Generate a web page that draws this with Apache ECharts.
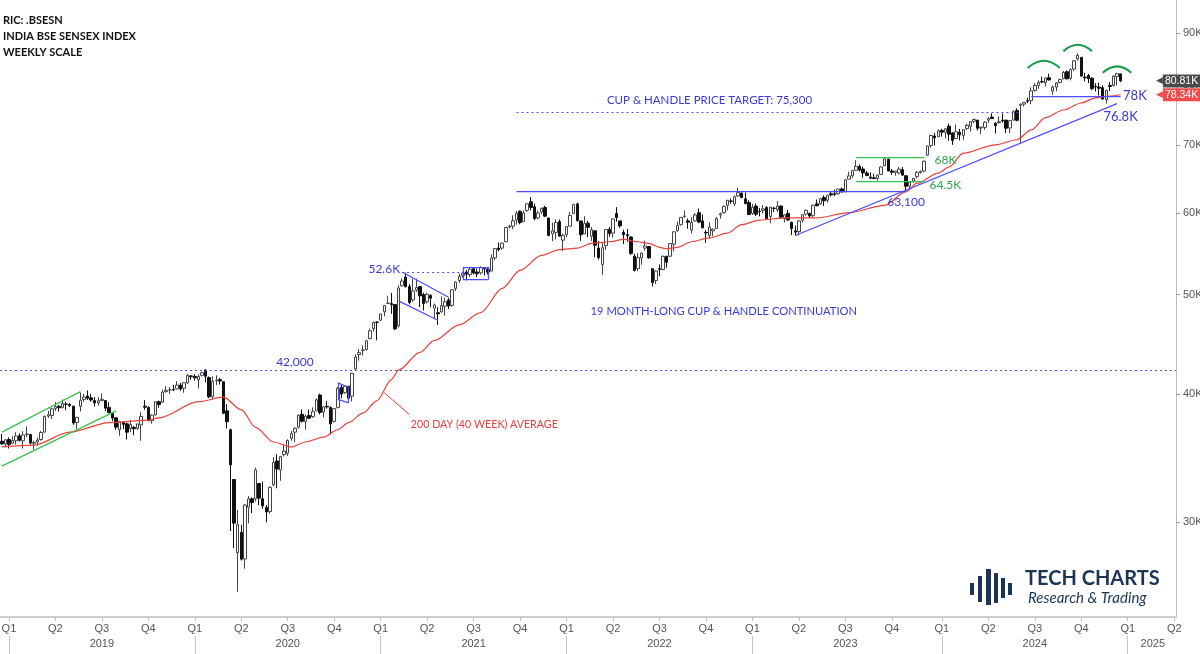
<!DOCTYPE html>
<html>
<head>
<meta charset="utf-8">
<title>BSE Sensex weekly</title>
<script src="https://cdn.jsdelivr.net/npm/echarts@6/dist/echarts.min.js"></script>
<style>
html, body { margin: 0; padding: 0; background: #fff; }
#chart { width: 1200px; height: 654px; }
</style>
</head>
<body>
<div id="chart"></div>
<script>
// weekly candles, rows are [open, close, low, high]; first week starts 2018-12-17
var ohlc2018 = [
    [35960, 35742, 35690, 36550], [35740, 36076, 35470, 36120], [36100, 35695, 35380, 36270]
];
var ohlc2019 = [
    [35800, 36010, 35740, 36370], [36000, 36387, 35700, 36700], [36400, 36025, 35950, 36600],
    [36000, 36469, 35375, 36780], [36500, 36546, 36300, 37170], [36500, 35809, 35700, 36560],
    [35800, 35871, 35300, 36000], [35900, 36064, 35600, 36250], [36100, 36671, 36000, 36800],
    [36700, 38024, 36700, 38100], [38050, 38164, 37900, 38490], [38100, 38673, 37800, 38750],
    [38700, 38862, 38500, 39270], [38900, 38767, 38450, 39000], [38800, 39140, 38700, 39490],
    [39100, 39067, 38550, 39300], [39050, 38963, 38830, 39200], [38900, 37463, 37300, 38950],
    [37500, 37931, 36950, 38000], [38900, 39435, 38450, 40120], [39500, 39714, 39300, 40000],
    [39800, 39616, 39450, 40310], [39650, 39452, 39300, 40000], [39400, 39195, 38870, 39700],
    [39200, 39395, 38950, 39700], [39400, 39513, 39400, 40030], [39400, 38737, 38480, 39400],
    [38800, 38337, 38300, 39250], [38300, 37883, 37620, 38390], [37900, 37118, 36900, 37950],
    [36900, 37582, 36400, 37650], [37500, 37350, 36950, 37600], [37400, 36701, 36100, 37500],
    [37000, 37333, 36700, 37700], [37100, 36982, 36450, 37200], [37000, 37385, 36900, 37400],
    [37300, 38015, 35990, 38380], [38900, 38823, 38600, 39440], [38800, 37673, 37600, 38900],
    [37650, 38127, 37420, 38200], [38150, 39298, 38100, 39360], [39300, 39058, 38780, 39400],
    [39250, 40165, 39200, 40390], [40200, 40324, 40100, 40690], [40350, 40357, 40000, 40600],
    [40400, 40359, 40250, 40820], [40450, 40794, 40400, 41160], [40800, 40445, 40280, 41000],
    [40500, 41010, 40100, 41050], [41000, 41682, 40900, 41810], [41650, 41575, 41300, 41700],
    [41600, 41465, 41200, 41810]
];
var ohlc2020 = [
    [41300, 41600, 40480, 41780], [41700, 41945, 41600, 42060], [42200, 41613, 41050, 42270],
    [41500, 39736, 39630, 41600], [39750, 41142, 39500, 41600], [41200, 41258, 40800, 41700],
    [41300, 41170, 40850, 41450], [41100, 38297, 38220, 41150], [38500, 37577, 37000, 39080],
    [36900, 34103, 29390, 37000], [33000, 29916, 28290, 33000], [28000, 29816, 25640, 30820],
    [29300, 27591, 27500, 29800], [27600, 31160, 27000, 31230], [31000, 31589, 29900, 31800],
    [31600, 31327, 30600, 31700], [31600, 33717, 31400, 33890], [32700, 31643, 31150, 32700],
    [31600, 31098, 30900, 32850], [31000, 30673, 29970, 31150], [30700, 32424, 30550, 32500],
    [32600, 34287, 32500, 34700], [34400, 33781, 32350, 34930], [33700, 34732, 32900, 34800],
    [34900, 35171, 34750, 35710], [35000, 36021, 34800, 36110], [36200, 36594, 36000, 36810],
    [36700, 37020, 35880, 37100], [37100, 38129, 37000, 38200], [38200, 37607, 37500, 38620],
    [37600, 38040, 36900, 38200], [38100, 37877, 37800, 38630], [38000, 38434, 37900, 38800],
    [38500, 39467, 38500, 39600], [39900, 38357, 38200, 40010], [38400, 38855, 37940, 38900],
    [38900, 38845, 38700, 39360], [38800, 37388, 36500, 38900], [37600, 38697, 37500, 38750],
    [38800, 40509, 38700, 40600], [40600, 39983, 39600, 40810], [40100, 40686, 40000, 40800],
    [40700, 39614, 39240, 40700], [39800, 41893, 39330, 41950], [42300, 43443, 42200, 43700],
    [43700, 43882, 43100, 44230], [44100, 44150, 43600, 44600], [44200, 45080, 44100, 45150],
    [45300, 46099, 45200, 46300], [46300, 46961, 46000, 47050], [47000, 46974, 45110, 47100],
    [47200, 47869, 47100, 47900]
];
var ohlc2021 = [
    [48100, 48782, 47600, 48850], [49000, 49035, 48950, 49800], [49000, 48879, 47880, 50180],
    [48900, 46286, 46160, 48900], [46600, 50732, 46430, 51070], [51000, 51544, 50900, 51840],
    [52000, 50890, 50800, 52520], [50900, 49100, 48900, 51200], [49400, 50406, 49200, 51820],
    [50500, 50792, 50300, 51820], [50900, 49858, 48620, 50950], [50000, 49009, 48240, 50200],
    [49200, 50030, 49000, 50200], [49900, 49591, 48600, 50050], [48500, 48832, 47360, 49000],
    [48000, 47878, 46700, 48600], [48100, 48782, 48000, 49800], [48700, 49206, 47700, 49620],
    [49400, 48732, 48400, 49620], [48800, 50540, 48650, 50600], [50700, 51423, 50400, 51500],
    [51600, 52100, 51300, 52400], [52200, 52475, 51950, 52640], [52600, 52344, 51600, 52870],
    [52300, 52925, 52000, 53130], [53000, 52485, 52300, 53130], [52600, 52386, 52000, 53000],
    [52500, 53140, 52300, 53290], [53100, 52976, 52200, 53200], [52900, 52586, 52300, 53100],
    [52700, 54277, 52700, 54720], [54300, 55437, 54000, 55490], [55500, 55329, 55100, 56200],
    [55500, 56124, 55300, 56200], [56300, 58130, 56250, 58190], [58200, 58305, 58000, 58500],
    [58300, 59015, 57900, 59740], [59100, 60048, 58500, 60330], [60300, 58765, 58550, 60410],
    [58900, 60059, 58900, 60400], [60400, 61306, 60200, 61350], [61600, 60821, 60400, 62250],
    [60900, 59307, 59100, 61350], [59400, 60067, 59200, 60400], [60200, 60687, 59950, 60800],
    [60800, 59636, 59500, 61040], [59400, 57107, 56990, 59400], [57300, 57696, 56380, 58780],
    [57500, 58786, 56600, 59200], [58900, 57011, 57000, 59200], [56500, 57124, 55130, 57350],
    [57200, 58254, 56900, 58350]
];
var ohlc2022 = [
    [58300, 59745, 58300, 60200], [60000, 61223, 59900, 61320], [61300, 59037, 58900, 61480],
    [59000, 57200, 56400, 59000], [57300, 58645, 57300, 59620], [58700, 58153, 56900, 59000],
    [57000, 57833, 56400, 58200], [57700, 55859, 54380, 57700], [55500, 54334, 54100, 56400],
    [53500, 55550, 52260, 56200], [55800, 57864, 55300, 57900], [57900, 57362, 56950, 58200],
    [57400, 59277, 56800, 59300], [60000, 59447, 58900, 60850], [59000, 58339, 58100, 59000],
    [57500, 57197, 56000, 57850], [57200, 57061, 56300, 57950], [56900, 54836, 54670, 57000],
    [54500, 52794, 52670, 54800], [53000, 54326, 52700, 54900], [54300, 54885, 53450, 54960],
    [55500, 55769, 55200, 56430], [55700, 54303, 54200, 55700], [53000, 51360, 50920, 53000],
    [51600, 52728, 51200, 52800], [53000, 52908, 52100, 53500], [52900, 54482, 52800, 54600],
    [54500, 53761, 53100, 54500], [54500, 56072, 54400, 56150], [56000, 57570, 55100, 57620],
    [57700, 58388, 57600, 58900], [58500, 59463, 58400, 59500], [59600, 59646, 59400, 60410],
    [59000, 58834, 57980, 59320], [57800, 58803, 57370, 59500], [59000, 59793, 58900, 60050],
    [60100, 58841, 58700, 60680], [59000, 58099, 58000, 59850], [57500, 57427, 56150, 57800],
    [57100, 58191, 56680, 58800], [57700, 57920, 57000, 58000], [58000, 59307, 57950, 59500],
    [59800, 59960, 59300, 60120], [60100, 60950, 60000, 61100], [61100, 61795, 60400, 61850],
    [61700, 61663, 61300, 62050], [61300, 62294, 61000, 62450], [62400, 62868, 62300, 63580],
    [62800, 62182, 62100, 62900], [62000, 61338, 61250, 62900], [61500, 59845, 59800, 61800],
    [60000, 60841, 59800, 61300]
];
var ohlc2023 = [
    [61000, 59900, 59650, 61350], [60300, 60261, 59600, 60750], [60400, 60621, 60000, 61150],
    [60800, 59331, 59200, 61000], [59600, 60842, 58700, 60900], [60700, 60683, 60200, 60900],
    [60500, 61002, 60200, 61680], [61000, 59464, 59300, 61100], [59300, 59809, 58800, 59900],
    [60000, 59135, 59000, 60500], [58800, 57990, 57150, 58900], [57700, 57527, 57080, 58400],
    [57600, 58992, 57100, 59100], [59100, 59833, 58800, 59900], [59900, 60431, 59700, 60500],
    [60000, 59655, 59400, 60100], [59700, 61112, 59500, 61200], [61300, 61055, 60950, 61900],
    [61300, 62027, 61200, 62100], [62200, 61730, 61000, 62500], [61800, 62501, 61500, 62550],
    [62700, 62547, 62350, 63040], [62700, 62626, 62400, 63300], [62700, 63385, 62600, 63400],
    [63400, 62979, 62850, 63600], [63000, 64719, 62900, 64770], [64800, 65280, 64800, 65900],
    [65300, 66061, 65000, 66160], [66100, 66684, 66000, 67620], [66700, 66160, 65900, 66990],
    [66300, 65721, 65000, 66660], [65700, 65323, 65250, 66000], [65100, 64949, 64800, 65800],
    [65000, 64887, 64800, 65600], [64900, 65387, 64600, 65500], [65500, 66599, 65450, 66650],
    [66800, 67839, 66700, 67930], [67800, 66009, 65950, 67800], [66000, 65828, 65450, 66300],
    [65800, 65996, 65300, 66000], [65700, 66283, 65500, 66600], [66200, 65398, 65300, 66600],
    [65300, 63782, 63100, 65400], [63800, 64364, 63500, 64450], [64500, 64905, 64300, 65000],
    [65200, 65795, 64900, 66000], [65800, 65970, 65600, 66050], [66000, 67481, 65800, 67550],
    [68400, 69826, 68300, 69890], [69900, 71484, 69550, 71600], [71400, 71107, 69900, 71900],
    [71300, 72240, 71200, 72480]
];
var ohlc2024 = [
    [72300, 72026, 71300, 72560], [72000, 72568, 71000, 72720], [73000, 71683, 70650, 73430],
    [71900, 70701, 70000, 72040], [71000, 72086, 70900, 73250], [72000, 71595, 70700, 72550],
    [71500, 72427, 70800, 72500], [72600, 73142, 72400, 73400], [73000, 73745, 72100, 73820],
    [73800, 74119, 73500, 74250], [74000, 72643, 72300, 74000], [72700, 72832, 71700, 72900],
    [72800, 73651, 72400, 73800], [74000, 74248, 73500, 74500], [74500, 74245, 74200, 75120],
    [73500, 73088, 71800, 73600], [73600, 73730, 73400, 74600], [74000, 73878, 73600, 75100],
    [74000, 72664, 71870, 74000], [72700, 73917, 71870, 74000], [74000, 75410, 73900, 75640],
    [75600, 73961, 73800, 76000], [76500, 76693, 70230, 76800], [76700, 76993, 76300, 77080],
    [77300, 77209, 76900, 77850], [77300, 79033, 76700, 79670], [79100, 79997, 78900, 80400],
    [80000, 80519, 79400, 80900], [80700, 80605, 80400, 81590], [80500, 81333, 79800, 81400],
    [81400, 80982, 80900, 82130], [79000, 79706, 78300, 80000], [79700, 80437, 78950, 80600],
    [80500, 81086, 80400, 81200], [81200, 82365, 81100, 82640], [82500, 81184, 81100, 82730],
    [81300, 82891, 80900, 83120], [83000, 84544, 82600, 84700], [84900, 85572, 84600, 85980],
    [85200, 81688, 81530, 85300], [81500, 81381, 80730, 82300], [81800, 81225, 80400, 82100],
    [81300, 79402, 79140, 81500], [79800, 79724, 78900, 80400], [79700, 79486, 78200, 80500],
    [79600, 77580, 77530, 80000], [77500, 79117, 76800, 79200], [80000, 79802, 79000, 80600],
    [80000, 81709, 79800, 81800], [81600, 82133, 80000, 82300], [82100, 80810, 80600, 82100]
];

// 40 week average
var avgPoints = [
    ['2018-12-17', 35500], ['2019-02-18', 35650], ['2019-04-29', 36700], ['2019-07-15', 37500],
    ['2019-09-30', 37700], ['2019-10-21', 37900], ['2020-01-06', 39300], ['2020-02-24', 39700],
    ['2020-03-30', 38600], ['2020-04-27', 37100], ['2020-06-01', 35900], ['2020-07-06', 35500],
    ['2020-08-03', 35900], ['2020-09-07', 36300], ['2020-10-05', 36900], ['2020-10-26', 37500],
    ['2020-11-23', 38300], ['2020-12-21', 39400], ['2021-01-18', 41300], ['2021-02-01', 42200],
    ['2021-03-15', 43900], ['2021-04-12', 45100], ['2021-05-31', 46700], ['2021-07-12', 48000],
    ['2021-08-23', 50700], ['2021-09-27', 52800], ['2021-11-08', 54600], ['2021-12-13', 55300],
    ['2022-01-17', 55500], ['2022-02-14', 56100], ['2022-03-21', 56300], ['2022-04-18', 56600],
    ['2022-05-16', 56300], ['2022-06-06', 56100], ['2022-06-27', 55600], ['2022-07-11', 55400],
    ['2022-08-01', 55600], ['2022-08-29', 56300], ['2022-10-03', 56800], ['2022-11-07', 57400],
    ['2022-12-05', 58500], ['2023-01-09', 59100], ['2023-02-27', 59400], ['2023-05-01', 59400],
    ['2023-07-03', 60100], ['2023-09-11', 61100], ['2023-10-23', 63000], ['2023-11-13', 64200],
    ['2023-12-25', 65700], ['2024-01-15', 66600], ['2024-02-12', 68700], ['2024-04-15', 70000],
    ['2024-05-27', 70800], ['2024-06-24', 72400], ['2024-07-22', 74400], ['2024-08-26', 75700],
    ['2024-09-30', 76900], ['2024-10-28', 77800], ['2024-11-25', 78100], ['2024-12-16', 78340]
];

// head & shoulders arcs: [from week, to week, price level at the ends]
var arcs = [
    ['2024-06-17', '2024-08-19', 83200],
    ['2024-08-26', '2024-10-21', 86400],
    ['2024-11-11', '2025-01-06', 82300]
];

var priceTicks = [30000, 40000, 50000, 60000, 70000, 80000, 90000];

var BLUE = '#3a3ad8';
var LINEBLUE = '#4d4dff';
var GREEN = '#2aa84a';
var LINEGREEN = '#3cbf4c';
var RED = '#e8403a';
var FONT = 'Lato';
var AXFONT = 'Liberation Sans';

// log price scale: ln(price) on a value axis
function L(v) { return Math.log(v); }
var yMin = 10.0952, yMax = 11.4817;

// weekly calendar, Monday of each week, running on past the data to April 2025
var weeks = [];
var t0 = Date.UTC(2018, 11, 17);
for (var i = 0; i < 329; i++) {
    weeks.push(new Date(t0 + i * 7 * 864e5).toISOString().slice(0, 10));
}

var ohlc = ohlc2018.concat(ohlc2019, ohlc2020, ohlc2021, ohlc2022, ohlc2023, ohlc2024);
var lastClose = ohlc[ohlc.length - 1][1];
var lastAvg = avgPoints[avgPoints.length - 1][1];

// true when the week holds the first day of a month in `months`
function weekHoldsMonthStart(v, months) {
    var d = Date.parse(v + 'T00:00:00Z');
    var e = new Date(d + 6 * 864e5);
    var first = Date.UTC(e.getUTCFullYear(), e.getUTCMonth(), 1);
    return months.indexOf(e.getUTCMonth()) >= 0 && first >= d;
}
function quarterOf(v) {
    var e = new Date(Date.parse(v + 'T00:00:00Z') + 6 * 864e5);
    return 'Q' + (Math.floor(e.getUTCMonth() / 3) + 1);
}
function isQuarter(idx, v) { return weekHoldsMonthStart(v, [0, 3, 6, 9]); }
function isYearStart(idx, v) { return weekHoldsMonthStart(v, [0]); }
function isYearMid(idx, v) { return weekHoldsMonthStart(v, [6]) || v === '2025-02-17'; }

// a drawn segment between two (week, price) points
function seg(d1, p1, d2, p2, style) {
    var ls = { color: LINEBLUE, width: 1.25, type: 'solid', opacity: 1 };
    for (var k in style) ls[k] = style[k];
    return { coords: [[weeks.indexOf(d1), L(p1)], [weeks.indexOf(d2), L(p2)]], lineStyle: ls };
}
function note(d, p, text, color, size) {
    return {
        coord: [d, L(p)], symbolSize: 0,
        label: { show: true, position: 'inside', formatter: text, color: color || BLUE,
                 fontSize: size || 12, fontFamily: FONT }
    };
}

var dotted = { type: [2, 3], width: 1 };
var green = { color: LINEGREEN };

var drawings = [
    seg('2021-09-20', 75300, '2024-06-03', 75300, dotted),
    seg('2021-09-20', 63000, '2023-10-23', 63000, {}),
    seg('2023-03-20', 57100, '2024-12-09', 76800, {}),
    seg('2024-06-24', 78000, '2024-12-16', 78000, {}),
    seg('2021-02-08', 52600, '2021-06-21', 52600, dotted),
    seg('2021-02-08', 52600, '2021-05-10', 49700, {}),
    seg('2021-02-01', 49300, '2021-04-19', 47200, {}),
    seg('2021-06-07', 53200, '2021-07-26', 53200, {}),
    seg('2021-06-07', 51700, '2021-07-26', 51700, {}),
    seg('2021-06-07', 53200, '2021-06-07', 51700, {}),
    seg('2021-07-26', 53200, '2021-07-26', 51700, {}),
    seg('2020-10-05', 41000, '2020-10-26', 40600, {}),
    seg('2020-10-05', 39500, '2020-10-26', 39200, {}),
    seg('2020-10-05', 41000, '2020-10-05', 39500, {}),
    seg('2020-10-26', 40600, '2020-10-26', 39200, {}),
    seg('2018-12-17', 36700, '2019-05-20', 40200, green),
    seg('2018-12-17', 34000, '2019-07-29', 38500, green),
    seg('2023-07-17', 68000, '2023-11-27', 68000, green),
    seg('2023-07-17', 64500, '2023-11-27', 64500, green),
    seg('2021-01-04', 40100, '2021-02-22', 38200, { color: RED, width: 1 })
];

var chart = echarts.init(document.getElementById('chart'));
var option = {
    animation: false,
    backgroundColor: '#fff',
    title: {
        left: 3, top: 12, padding: 0,
        text: 'RIC: .BSESN\nINDIA BSE SENSEX INDEX\nWEEKLY SCALE',
        textStyle: { fontSize: 11, fontWeight: 'bold', color: '#111', lineHeight: 16, fontFamily: FONT }
    },
    grid: { left: 0, right: 24, top: 0, bottom: 37, containLabel: false, outerBoundsMode: 'none' },
    xAxis: [{
        type: 'category', data: weeks, boundaryGap: true,
        axisLine: { lineStyle: { color: '#bdbdbd', width: 1.5 } },
        axisTick: { show: true, alignWithLabel: true, interval: isQuarter, length: 4, lineStyle: { color: '#bdbdbd' } },
        axisLabel: {
            interval: isQuarter,
            formatter: function (v) { return quarterOf(v); },
            color: '#555', fontSize: 11, margin: 6, fontFamily: AXFONT
        },
        splitLine: { show: false }
    }, {
        type: 'category', data: weeks, boundaryGap: true, position: 'bottom', offset: 19,
        axisLine: { show: true, lineStyle: { color: 'rgba(0,0,0,0)', width: 0 } },
        axisTick: { show: true, alignWithLabel: true, interval: isYearStart, length: 18, lineStyle: { color: '#c4c4c4' } },
        axisLabel: {
            interval: isYearMid,
            formatter: function (v) { return v.slice(0, 4); },
            color: '#555', fontSize: 11, margin: 2, fontFamily: AXFONT
        },
        splitLine: { show: false }
    }],
    yAxis: [{
        type: 'value', position: 'right', min: yMin, max: yMax,
        axisLine: { show: true, lineStyle: { color: '#bdbdbd' } },
        axisTick: { show: true, length: 4, customValues: priceTicks.map(L), lineStyle: { color: '#999' } },
        axisLabel: {
            customValues: priceTicks.map(L), margin: 7, color: '#555', fontSize: 11, fontFamily: AXFONT,
            formatter: function (v) { return Math.round(Math.exp(v) / 1000) + 'K'; }
        },
        splitLine: { show: false }
    }, {
        type: 'value', position: 'right', min: yMin, max: yMax,
        axisLine: { show: false }, axisTick: { show: false }, splitLine: { show: false },
        axisLabel: {
            customValues: [L(lastClose), L(lastAvg)], margin: -20,
            formatter: function (v) {
                var txt = (Math.exp(v) / 1000).toFixed(2) + 'K';
                return Math.abs(v - L(lastClose)) < 1e-6 ? '{tg|◀}{g|' + txt + '}' : '{tr|◀}{r|' + txt + '}';
            },
            rich: {
                tg: { color: '#4a4a4a', fontSize: 9, fontFamily: 'DejaVu Sans' },
                tr: { color: '#f24b4b', fontSize: 9, fontFamily: 'DejaVu Sans' },
                g: { color: '#fff', backgroundColor: '#4a4a4a', fontSize: 10.5, padding: [1, 2, 1, 2], fontFamily: AXFONT },
                r: { color: '#fff', backgroundColor: '#f24b4b', fontSize: 10.5, padding: [1, 2, 1, 2], fontFamily: AXFONT }
            }
        }
    }],
    graphic: [{
        type: 'group', left: 970, top: 569,
        children: [
            { type: 'rect', shape: { x: 0, y: 14, width: 4, height: 12 }, style: { fill: '#1c3557' } },
            { type: 'rect', shape: { x: 8, y: 7, width: 4, height: 26 }, style: { fill: '#1c3557' } },
            { type: 'rect', shape: { x: 16, y: 0, width: 5, height: 36 }, style: { fill: '#1c3557' } },
            { type: 'rect', shape: { x: 24, y: 4, width: 4, height: 30 }, style: { fill: '#1c3557' } },
            { type: 'rect', shape: { x: 31, y: 9, width: 4, height: 20 }, style: { fill: '#1c3557' } },
            { type: 'rect', shape: { x: 38, y: 14, width: 4, height: 12 }, style: { fill: '#1c3557' } }
        ]
    }, {
        type: 'text', left: 1025, top: 569,
        style: { text: 'TECH CHARTS', font: 'bold 20px Lato', fill: '#1c3557' }
    }, {
        type: 'text', left: 1028, top: 591,
        style: { text: 'Research & Trading', font: 'italic 15px Lato', fill: '#1c3557' }
    }],
    series: [{
        name: 'Sensex', type: 'candlestick',
        data: ohlc.map(function (r) { return r.map(L); }),
        barWidth: 3,
        itemStyle: { color: '#ffffff', color0: '#111', borderColor: '#444', borderColor0: '#111', borderWidth: 1 },
        z: 2
    }, {
        name: 'drawings', type: 'lines', coordinateSystem: 'cartesian2d', xAxisIndex: 0, yAxisIndex: 0,
        silent: true, z: 4,
        lineStyle: { width: 1.25, opacity: 1, curveness: 0 },
        data: drawings
    }, {
        name: 'arcs', type: 'lines', coordinateSystem: 'cartesian2d', xAxisIndex: 0, yAxisIndex: 0,
        silent: true, z: 4,
        lineStyle: { color: '#139c4a', width: 2, opacity: 1, curveness: 0.45 },
        data: arcs.map(function (a) {
            return { coords: [[weeks.indexOf(a[0]), L(a[2])], [weeks.indexOf(a[1]), L(a[2])]] };
        })
    }, {
        name: '40 week average', type: 'line',
        data: avgPoints.map(function (p) { return [p[0], L(p[1])]; }),
        smooth: 0.3, smoothMonotone: 'x', showSymbol: false, symbol: 'none',
        lineStyle: { color: RED, width: 1.2 },
        z: 3,
        markLine: {
            silent: true, symbol: ['none', 'none'], label: { show: false }, animation: false,
            data: [
                { yAxis: L(42000), lineStyle: { color: LINEBLUE, width: 1, type: [2, 3] } }
            ]
        },
        markPoint: {
            silent: true, animation: false,
            data: [
                note('2020-07-13', 43000, '42,000', BLUE, 12),
                note('2021-01-04', 53000, '52.6K', BLUE, 12),
                note('2022-10-03', 77400, 'CUP & HANDLE PRICE TARGET: 75,300', BLUE, 11.5),
                note('2022-10-31', 48100, '19 MONTH-LONG CUP & HANDLE CONTINUATION', BLUE, 11.2),
                note('2021-07-19', 37300, '200 DAY (40 WEEK) AVERAGE', RED, 10.7),
                note('2023-10-23', 61600, '63,100', BLUE, 12),
                note('2024-01-08', 67700, '68K', GREEN, 12),
                note('2024-01-08', 64000, '64.5K', GREEN, 12),
                note('2025-01-13', 78200, '78K', BLUE, 13),
                note('2024-12-16', 74500, '76.8K', BLUE, 13)
            ]
        }
    }]
};
chart.setOption(option);
</script>
</body>
</html>
